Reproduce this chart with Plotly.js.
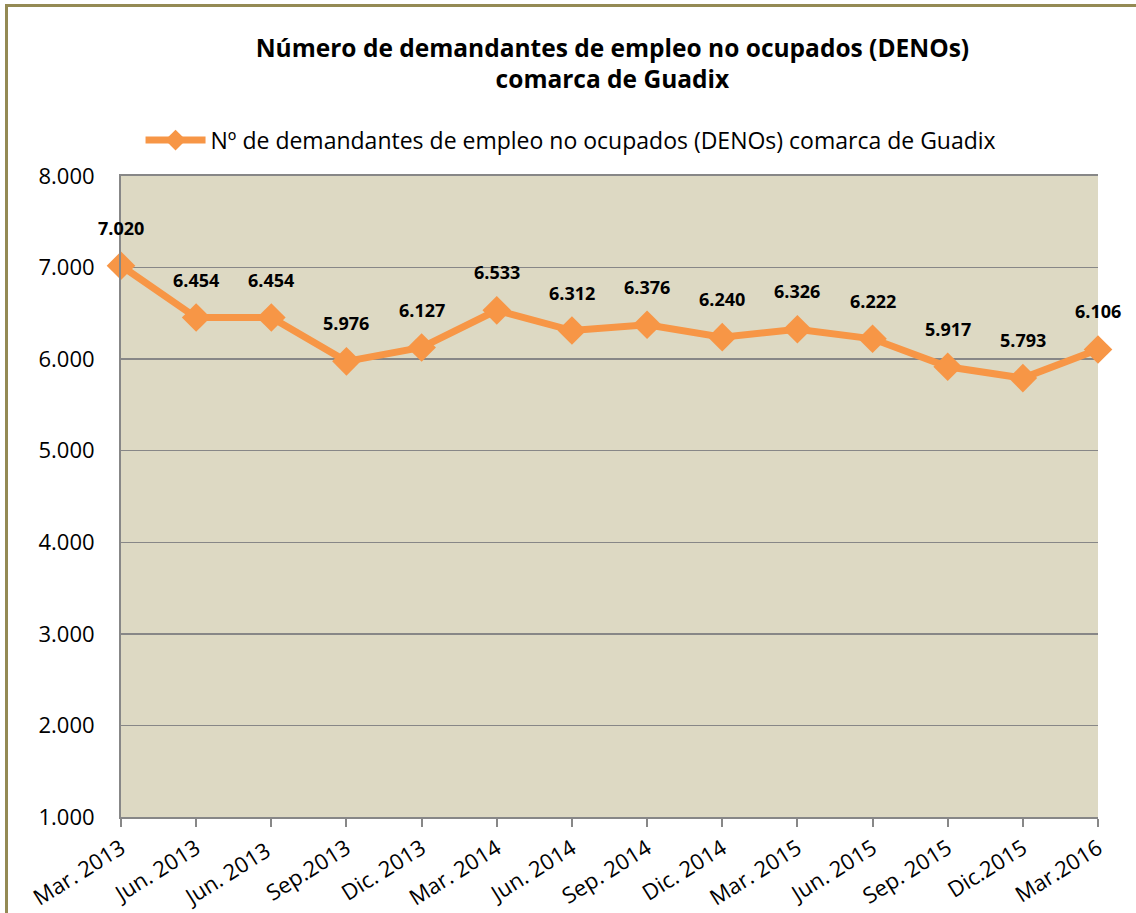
<!DOCTYPE html>
<html>
<head>
<meta charset="utf-8">
<script src="https://cdn.plot.ly/plotly-3.0.1.min.js"></script>
<style>
  html, body { margin: 0; padding: 0; background: #ffffff; }
  #wrap { position: relative; width: 1136px; height: 913px; overflow: hidden; }
  #frame { position: absolute; left: 5px; top: 4px; width: 1200px; height: 1000px;
           border-left: 3px solid #948A54; border-top: 3px solid #948A54; pointer-events: none; z-index: 5; }
  #chart { position: absolute; left: 0; top: 0; width: 1136px; height: 913px; }
</style>
</head>
<body>
<div id="wrap">
  <div id="chart"></div>
  <div id="frame"></div>
</div>
<script>
const categories = ["Mar. 2013", "Jun. 2013", "Jun. 2013 ", "Sep.2013", "Dic. 2013", "Mar. 2014",
  "Jun. 2014", "Sep. 2014", "Dic. 2014", "Mar. 2015", "Jun. 2015", "Sep. 2015", "Dic.2015", "Mar.2016"];
const values = [7020, 6454, 6454, 5976, 6127, 6533, 6312, 6376, 6240, 6326, 6222, 5917, 5793, 6106];
const seriesName = "Nº de demandantes de empleo no ocupados (DENOs) comarca de Guadix";
const titleLines = ["Número de demandantes de empleo no ocupados (DENOs)", "comarca de Guadix"];
const yTicks = [1000, 2000, 3000, 4000, 5000, 6000, 7000, 8000];

const FONT = "'Open Sans', 'Noto Sans', sans-serif";
const ORANGE = "#F79646";

const trace = {
  x: categories,
  y: values,
  type: "scatter",
  mode: "lines+markers",
  name: seriesName,
  line: { color: ORANGE, width: 7 },
  marker: { symbol: "diamond", size: 22, color: ORANGE },
  cliponaxis: false,
  hoverinfo: "x+y"
};

const annotations = categories.map((c, i) => ({
  x: c, y: values[i], xref: "x", yref: "y",
  text: "<b>" + values[i].toLocaleString("de-DE") + "</b>",
  showarrow: false, yshift: 38,
  font: { family: FONT, size: 18, color: "#000000" }
}));

const layout = {
  width: 1136, height: 913,
  margin: { l: 121, r: 38, t: 176, b: 96, pad: 0 },
  paper_bgcolor: "rgba(0,0,0,0)",
  plot_bgcolor: "#DDD9C3",
  separators: ",.",
  font: { family: FONT, size: 20, color: "#000000" },
  title: {
    text: "<b>" + titleLines.join("<br>") + "</b>",
    font: { family: FONT, size: 24.5, color: "#000000" },
    x: 0.503, xref: "paper", xanchor: "center",
    y: 0.938, yref: "container", yanchor: "middle"
  },
  showlegend: true,
  legend: {
    orientation: "h",
    x: 0.02, xanchor: "left",
    y: 1.056, yanchor: "middle",
    font: { family: FONT, size: 23, color: "#000000" },
    bgcolor: "rgba(0,0,0,0)",
    itemwidth: 60
  },
  xaxis: {
    type: "category",
    range: [0, categories.length - 1],
    showgrid: false,
    showline: true, linecolor: "#878787", linewidth: 2,
    mirror: true,
    ticks: "outside", ticklen: 8, tickcolor: "#878787", tickwidth: 2,
    tickangle: -32,
    tickfont: { family: FONT, size: 22, color: "#000000" },
    fixedrange: true
  },
  yaxis: {
    range: [1000, 8000],
    tickvals: yTicks,
    tickformat: ",d",
    showgrid: true, gridcolor: "#878787", gridwidth: 1.5,
    showline: true, linecolor: "#878787", linewidth: 2,
    zeroline: false,
    ticks: "",
    ticklabelstandoff: 20,
    tickfont: { family: FONT, size: 22, color: "#000000" },
    fixedrange: true
  },
  annotations: annotations
};

Plotly.newPlot("chart", [trace], layout, { displayModeBar: false, staticPlot: true });
</script>
</body>
</html>
